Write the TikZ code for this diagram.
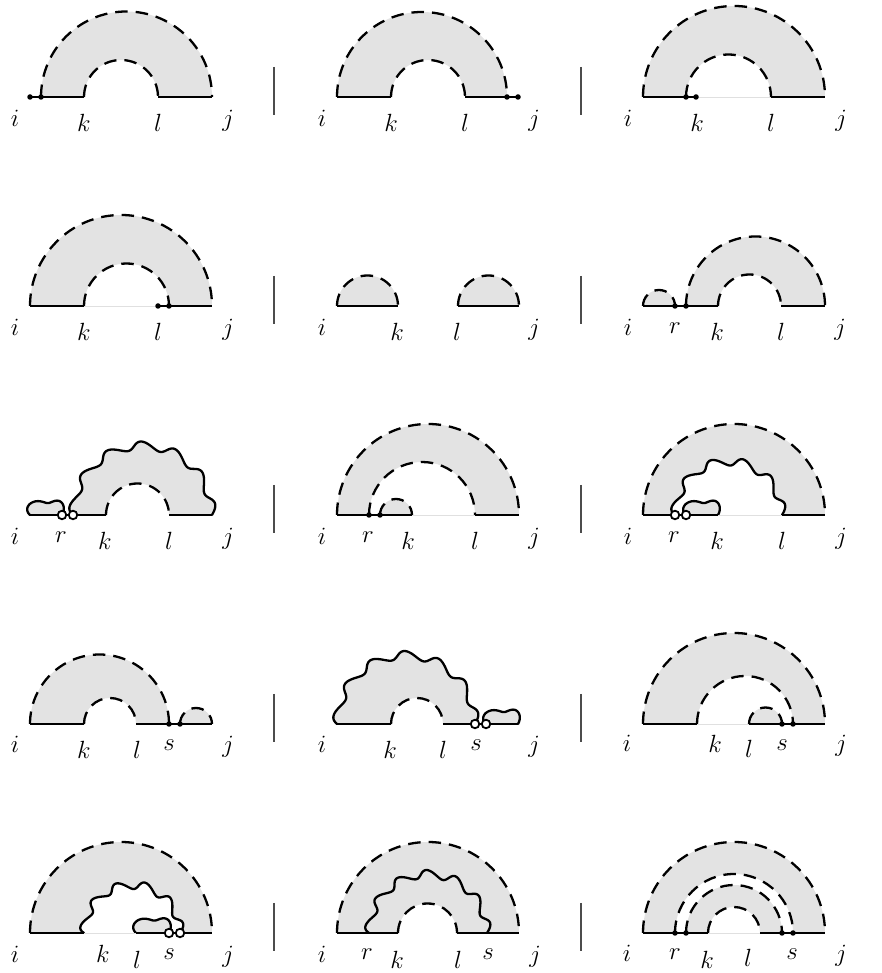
\documentclass[tikz,border=0pt]{standalone}
\definecolor{bandgray}{gray}{0.89}
\tikzset{
  band/.style={fill=bandgray,draw=none},
  dashline/.style={black,line width=2.3pt,dash pattern=on 12.5pt off 8pt},
  solidline/.style={black,line width=2.3pt},
  faintline/.style={black!12,line width=0.8pt},
  waveline/.style={black,line width=2.3pt,line join=round,line cap=round},
  divider/.style={black!70,line width=1.2pt},
  opendot/.style={circle,draw=black,fill=white,line width=1.8pt,inner sep=0pt,minimum size=8.5pt},
  fulldot/.style={circle,fill=black,inner sep=0pt,minimum size=5.5pt},
  lab/.style={inner sep=0pt,anchor=base,font=\fontsize{25}{30}\selectfont},
}
\newcommand{\geom}[2]{\pgfmathsetmacro\ro{(#2-#1)/2}\pgfmathsetmacro\cx{(#2+#1)/2}}
% wavy half circle about \cx of radius \ro with #1 periods, running from parameter #2 to #3
\newcommand{\wplot}[3]{plot[domain=#2:#3,samples=181,variable=\t]
  ({\cx+(\ro+4*sin(360*#1*\t))*cos(180*(1-\t)+(1.6*57.3/\ro)*sin(360*#1*\t))},
   {(\ro+4*sin(360*#1*\t))*sin(180*(1-\t)+(1.6*57.3/\ro)*sin(360*#1*\t))})}
\newcommand{\annul}[4]{\pgfmathsetmacro\ro{(#2-#1)/2}\pgfmathsetmacro\ri{(#4-#3)/2}
  \fill[band] (#1,0) arc[start angle=180,end angle=0,radius=\ro] -- (#4,0) arc[start angle=0,end angle=180,radius=\ri] -- cycle;}
\newcommand{\hdisk}[2]{\pgfmathsetmacro\ro{(#2-#1)/2}
  \fill[band] (#1,0) arc[start angle=180,end angle=0,radius=\ro] -- cycle;}
\newcommand{\darc}[2]{\pgfmathsetmacro\ro{(#2-#1)/2}
  \draw[dashline] (#1,0) arc[start angle=180,end angle=0,radius=\ro];}
% band with wavy outer edge: x1 x2 inner1 inner2 periods
\newcommand{\wannul}[5]{\geom{#1}{#2}\pgfmathsetmacro\ri{(#4-#3)/2}
  \fill[band] \wplot{#5}{0}{1} -- (#4,0) arc[start angle=0,end angle=180,radius=\ri] -- cycle;
  \draw[waveline] \wplot{#5}{0}{1};}
% band with wavy inner edge: x1 x2 wave1 wave2 periods
\newcommand{\wannulin}[5]{\pgfmathsetmacro\rr{(#2-#1)/2}\geom{#3}{#4}
  \fill[band] (#1,0) arc[start angle=180,end angle=0,radius=\rr] -- plot[domain=1:0,samples=181,variable=\t]
  ({\cx+(\ro+4*sin(360*#5*\t))*cos(180*(1-\t)+(1.6*57.3/\ro)*sin(360*#5*\t))},
   {(\ro+4*sin(360*#5*\t))*sin(180*(1-\t)+(1.6*57.3/\ro)*sin(360*#5*\t))}) -- cycle;
  \draw[waveline] \wplot{#5}{0}{1};}
\newcommand{\warc}[3]{\geom{#1}{#2}\draw[waveline] \wplot{#3}{0}{1};}
\newcommand{\wdisk}[3]{\geom{#1}{#2}
  \fill[band] \wplot{#3}{0}{1} -- cycle;
  \draw[waveline] \wplot{#3}{0}{1};}
\newcommand{\seg}[2]{\draw[solidline] (#1,0) -- (#2,0);}
\newcommand{\faint}[2]{\draw[faintline] (#1,0) -- (#2,0);}
\newcommand{\fd}[1]{\node[fulldot] at (#1,0) {};}
\newcommand{\od}[1]{\node[opendot] at (#1,0) {};}
% labels: name, x, drop below the base line, letter
\newcommand{\lb}[4]{\node[lab] (#1) at (#2,-#3) {$#4$};}
\newcommand{\divd}{\draw[divider] (274,30) -- (274,-18); \draw[divider] (581,30) -- (581,-18);}
\begin{document}
\begin{tikzpicture}[x=1pt,y=1pt]
\useasboundingbox (0,0) rectangle (882,973);
% ---------- row 1
\begin{scope}[shift={(0,876)}]
\divd
\annul{41}{212}{84}{158}
\darc{41}{212}\darc{84}{158}\seg{30}{84}\seg{158}{212}\fd{30}\fd{41}
\lb{a1i}{15}{30}{i}\lb{a1k}{84}{35}{k}\lb{a1l}{158}{35}{l}\lb{a1j}{228}{30}{j}
\annul{337}{507}{391}{465}
\darc{337}{507}\darc{391}{465}\seg{337}{391}\seg{465}{518}\fd{507}\fd{518}
\lb{a2i}{322}{30}{i}\lb{a2k}{391}{35}{k}\lb{a2l}{465}{35}{l}\lb{a2j}{534}{30}{j}
\annul{643}{825}{686}{771}
\darc{643}{825}\darc{686}{771}\seg{643}{696}\faint{696}{771}\seg{771}{825}\fd{686}\fd{696}
\lb{a3i}{628}{30}{i}\lb{a3k}{697}{35}{k}\lb{a3l}{771}{35}{l}\lb{a3j}{841}{30}{j}
\end{scope}
% ---------- row 2
\begin{scope}[shift={(0,667)}]
\divd
\annul{30}{212}{84}{169}
\darc{30}{212}\darc{84}{169}\seg{30}{84}\faint{84}{158}\seg{158}{212}\fd{158}\fd{169}
\lb{b1i}{15}{30}{i}\lb{b1k}{84}{35}{k}\lb{b1l}{158}{35}{l}\lb{b1j}{228}{30}{j}
\hdisk{337}{398}\hdisk{458}{519}
\darc{337}{398}\darc{458}{519}\seg{337}{398}\seg{458}{519}
\lb{b2i}{322}{30}{i}\lb{b2k}{397}{35}{k}\lb{b2l}{457}{35}{l}\lb{b2j}{534}{30}{j}
\hdisk{643}{675}\annul{686}{825}{718}{781}
\darc{643}{675}\darc{686}{825}\darc{718}{781}\seg{643}{718}\seg{781}{825}\fd{675}\fd{686}
\lb{b3i}{628}{30}{i}\lb{b3r}{675}{28}{r}\lb{b3k}{717}{35}{k}\lb{b3l}{781}{35}{l}\lb{b3j}{840}{30}{j}
\end{scope}
% ---------- row 3
\begin{scope}[shift={(0,458)}]
\divd
\wdisk{30}{62}{1.5}\wannul{73}{212}{106}{169}{6.5}
\darc{106}{169}\seg{30}{106}\seg{169}{212}\od{62}\od{73}
\lb{c1i}{15}{30}{i}\lb{c1r}{61}{28}{r}\lb{c1k}{105}{35}{k}\lb{c1l}{169}{35}{l}\lb{c1j}{228}{30}{j}
\annul{337}{519}{369}{475}\hdisk{380}{412}
\darc{337}{519}\darc{369}{475}\darc{380}{412}\seg{337}{412}\faint{412}{475}\seg{475}{519}\fd{369}\fd{380}
\lb{c2i}{322}{30}{i}\lb{c2r}{368}{28}{r}\lb{c2k}{408}{35}{k}\lb{c2l}{475}{35}{l}\lb{c2j}{534}{30}{j}
\wannulin{643}{825}{675}{782}{5.5}\wdisk{686}{718}{1.5}
\darc{643}{825}\seg{643}{718}\faint{718}{782}\seg{782}{825}\od{675}\od{686}
\lb{c3i}{628}{30}{i}\lb{c3r}{674}{28}{r}\lb{c3k}{717}{35}{k}\lb{c3l}{782}{35}{l}\lb{c3j}{841}{30}{j}
\end{scope}
% ---------- row 4
\begin{scope}[shift={(0,249)}]
\divd
\annul{30}{169}{84}{136}\hdisk{180}{212}
\darc{30}{169}\darc{84}{136}\darc{180}{212}\seg{30}{84}\seg{136}{212}\fd{169}\fd{180}
\lb{d1i}{15}{29}{i}\lb{d1k}{84}{35}{k}\lb{d1l}{137}{35}{l}\lb{d1s}{169}{27}{s}\lb{d1j}{228}{29}{j}
\wannul{337}{475}{391}{443}{6.5}\wdisk{486}{518}{1.5}
\darc{391}{443}\seg{337}{391}\seg{443}{518}\od{475}\od{486}
\lb{d2i}{322}{29}{i}\lb{d2k}{390}{35}{k}\lb{d2l}{443}{35}{l}\lb{d2s}{476}{27}{s}\lb{d2j}{534}{29}{j}
\annul{643}{825}{697}{793}\hdisk{749}{782}
\darc{643}{825}\darc{697}{793}\darc{749}{782}\seg{643}{697}\faint{697}{749}\seg{749}{825}\fd{782}\fd{793}
\lb{d3i}{627}{28}{i}\lb{d3k}{715}{29}{k}\lb{d3l}{749}{34}{l}\lb{d3s}{782}{27}{s}\lb{d3j}{841}{28}{j}
\end{scope}
% ---------- row 5
\begin{scope}[shift={(0,40)}]
\divd
\wannulin{30}{212}{84}{180}{5.5}\wdisk{136}{169}{1.5}
\darc{30}{212}\seg{30}{84}\faint{84}{136}\seg{136}{212}\od{169}\od{180}
\lb{e1i}{15}{30}{i}\lb{e1k}{103}{30}{k}\lb{e1l}{137}{35}{l}\lb{e1s}{169}{27}{s}\lb{e1j}{228}{30}{j}
\annul{337}{519}{398}{457}
\darc{337}{519}\darc{398}{457}\warc{369}{487}{6.5}\seg{337}{398}\seg{457}{519}
\lb{e2i}{322}{30}{i}\lb{e2r}{367}{27}{r}\lb{e2k}{397}{35}{k}\lb{e2l}{458}{35}{l}\lb{e2s}{488}{27}{s}\lb{e2j}{535}{30}{j}
\annul{643}{825}{675}{793}\annul{686}{782}{708}{760}
\darc{643}{825}\darc{675}{793}\darc{686}{782}\darc{708}{760}\seg{643}{708}\faint{708}{760}\seg{760}{825}\fd{675}\fd{686}\fd{782}\fd{793}
\lb{e3i}{627}{29}{i}\lb{e3r}{675}{27}{r}\lb{e3k}{707}{35}{k}\lb{e3l}{748}{34}{l}\lb{e3s}{792}{27}{s}\lb{e3j}{841}{29}{j}
\end{scope}
\end{tikzpicture}
\end{document}
